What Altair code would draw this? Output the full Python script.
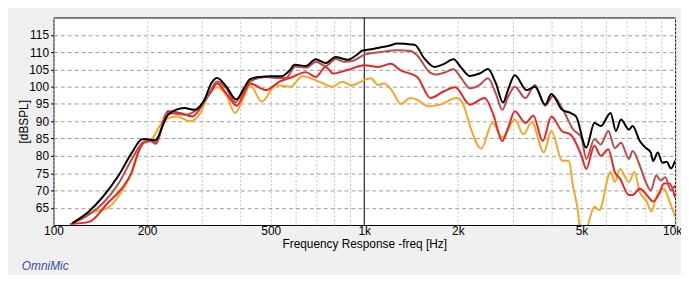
import altair as alt
import pandas as pd

# ---- data ----
black_f = [115,130,144,162,179,193,200,212,234,264,284,306,322,336,360,387,410,429,461,500,541,575,596,649,698,751,809,858,888,940,985,1050,1132,1200,1280,1418,1460,1550,1682,1800,1937,2050,2184,2350,2500,2650,2796,2900,3050,3330,3540,3820,4000,4330,4600,4800,5180,5500,5770,6200,6450,6700,7100,7300,7700,8000,8350,8500,8800,9100,9400,9700,10000]
black_db = [60.5,63.9,68.1,74.3,81,84.8,84.8,84.5,91.9,93.8,93.3,96.2,101,102.5,100,96.3,99.5,102.2,102.8,103,103,104.7,106.3,106,107.9,106.8,108.6,108,107.8,109,110.4,110.8,111.4,111.8,112.5,112.2,112,108.5,105.7,106.5,107.9,105.5,103.1,103.8,105.1,101,95.4,99,103.3,99,100,94.8,97.9,93.3,92.4,91.4,82.4,89.5,88.6,92.4,87.2,90.5,87.6,88.6,84.3,82.5,81,78.5,81,78,78.3,76.3,78.6]

brown_f = [115,130,145,162,180,195,205,213,232,265,290,310,336,360,385,410,430,480,530,560,600,650,700,750,810,860,920,1000,1130,1280,1410,1480,1633,1711,1800,1937,2050,2189,2350,2500,2650,2780,2900,3050,3300,3540,3820,4050,4330,4700,5000,5180,5500,5770,6100,6400,6700,7100,7300,7700,8000,8350,8700,9000,9300,9700,10000]
brown_db = [60.5,63,66.5,72,79.5,84,84.3,83.8,92.4,91.9,93.5,96.5,101.5,99.5,95.5,99,101.5,102.8,102.5,102.5,105.8,105.5,107.2,106,108,107.2,107.5,109.2,110,110.5,110.3,109,104,103.5,104,105,102.5,99.5,100.5,102.4,98,93.3,97,100,96.7,100.5,94.5,97.3,93.8,87.6,85.2,79.1,84.8,83.3,87.2,82.2,83.8,79.1,81.4,77.2,73,70,74.3,72.9,73.8,70,71.5]

red_f = [113,130,150,165,178,187,196,205,213,234,255,280,306,322,336,360,389,410,429,484,532,588,649,698,751,794,888,1000,1108,1217,1310,1480,1633,1800,1960,2189,2440,2600,2780,2900,3050,3300,3500,3750,4000,4330,4600,5000,5180,5500,5770,6100,6400,6650,7100,7300,7700,8100,8500,8900,9200,9600,10000]
red_db = [60.3,60.9,66.5,70.3,75,80.8,84,84.3,83.5,92.9,92.4,91.4,95.7,98.6,100.9,98,94.5,98,100.9,99,101.4,102.8,104.2,102.8,105.7,103.8,104.9,106.2,105.7,106.6,104.7,102.8,96.7,98.6,99.8,94.8,96.7,92,84.3,88,92.9,89.5,91.6,84.3,91.4,87.1,86.2,80,76.2,82.9,80,81.9,75.3,73.4,68.7,68.7,70.5,68.7,66.8,69.1,72,72,67.9]

orange_f = [115,127,140,150,165,179,193,205,228,250,275,297,315,336,360,384,410,429,468,520,580,632,719,789,849,912,1000,1050,1108,1160,1233,1310,1410,1480,1610,1750,1985,2100,2189,2380,2585,2780,3050,3250,3460,3780,4000,4330,4550,4700,4850,4930,5080,5250,5500,5700,6200,6400,6650,7100,7400,7700,8100,8400,8700,9200,9600,10000]
orange_db = [60.6,63,64.2,65,69.4,75.3,83.3,84.3,90.5,91.4,90,92.4,97.6,99.8,97.5,92.4,97,100.4,95.7,100.4,100,103,101.4,100,101.4,100.4,101.9,102.4,100.5,100.9,98.6,95,96.7,96.2,94.3,94.8,96.7,94,88.6,82.1,89.5,85.3,90.5,86.2,89.7,81,87.2,78.6,78.6,71,65,60,55,60,65.3,64.3,75.3,72.4,76.2,72.4,75.3,69.6,66.8,63.9,68.1,70.5,66.8,62.4]

series = [
    ("orange", orange_f, orange_db, "#f5a623"),
    ("red", red_f, red_db, "#ee2222"),
    ("brown", brown_f, brown_db, "#c04848"),
    ("black", black_f, black_db, "#000000"),
]

grid_x = [100,200,300,400,500,600,700,800,900,1000,2000,3000,4000,5000,6000,7000,8000,9000,10000]
label_vals = [100, 200, 500, 1000, 2000, 5000, 10000]
label_txt = ["100", "200", "500", "1k", "2k", "5k", "10k"]
y_ticks = [65, 70, 75, 80, 85, 90, 95, 100, 105, 110, 115]
marker_freq = [1000]
brand = ["OmniMic"]

label_expr = "".join(f"datum.value == {v} ? '{t}' : " for v, t in zip(label_vals, label_txt)) + "''"

FONT = "Liberation Sans"

x_enc = alt.X(
    "freq:Q",
    scale=alt.Scale(type="log", domain=[100, 10000], nice=False),
    axis=alt.Axis(
        values=grid_x, labelExpr=label_expr, labelOverlap=False, labelFlush=False,
        grid=True, gridDash=[2, 2], gridColor="#c4c4c4", gridWidth=1,
        ticks=False, domain=False, labelPadding=1, labelFontSize=12,
        labelFont=FONT, labelColor="#000000",
        labelOffset={"condition": {"test": "datum.value >= 10000", "value": -3}, "value": 0},
        title="Frequency Response -freq [Hz]", titleFont=FONT, titleFontSize=12,
        titleFontWeight="normal", titleColor="#000000", titlePadding=2,
    ),
)
y_enc = alt.Y(
    "db:Q",
    scale=alt.Scale(domain=[60, 120], nice=False),
    axis=alt.Axis(
        values=y_ticks, grid=True, gridDash=[4, 3], gridColor="#9a9a9a", gridWidth=1,
        ticks=True, tickSize=3, tickColor="#000000", domain=False,
        labelPadding=2, labelFontSize=12, labelFont=FONT, labelColor="#000000",
        title="[dBSPL]", titleFont=FONT, titleFontSize=12, titleFontWeight="normal",
        titleColor="#000000", titleX=-30, titleY=105, titleBaseline="middle",
        titleAlign="center",
    ),
)

layers = []
for name, f, d, col in series:
    df = pd.DataFrame({"freq": f, "db": d})
    layers.append(
        alt.Chart(df).mark_line(color=col, strokeWidth=2, clip=True, interpolate="monotone")
        .encode(x=x_enc, y=y_enc)
    )

rule = alt.Chart(pd.DataFrame({"freq": marker_freq})).mark_rule(color="#000000", strokeWidth=1).encode(x=x_enc)

brand_txt = alt.Chart(pd.DataFrame({"t": brand})).mark_text(
    align="left", baseline="middle", fontStyle="italic", fontSize=12,
    font=FONT, color="#3a4aa6"
).encode(x=alt.value(-32), y=alt.value(252), text="t:N")

chart = alt.layer(rule, *layers, brand_txt).properties(
    width=629, height=210,
    autosize=alt.AutoSizeParams(type="none"),
    padding={"left": 46, "top": 8, "right": 6, "bottom": 49},
    background="#f0f0f0",
).configure_view(fill="#ffffff", stroke="#000000", strokeWidth=1)

chart.save("out.html", embed_options={"renderer": "svg", "actions": False})
